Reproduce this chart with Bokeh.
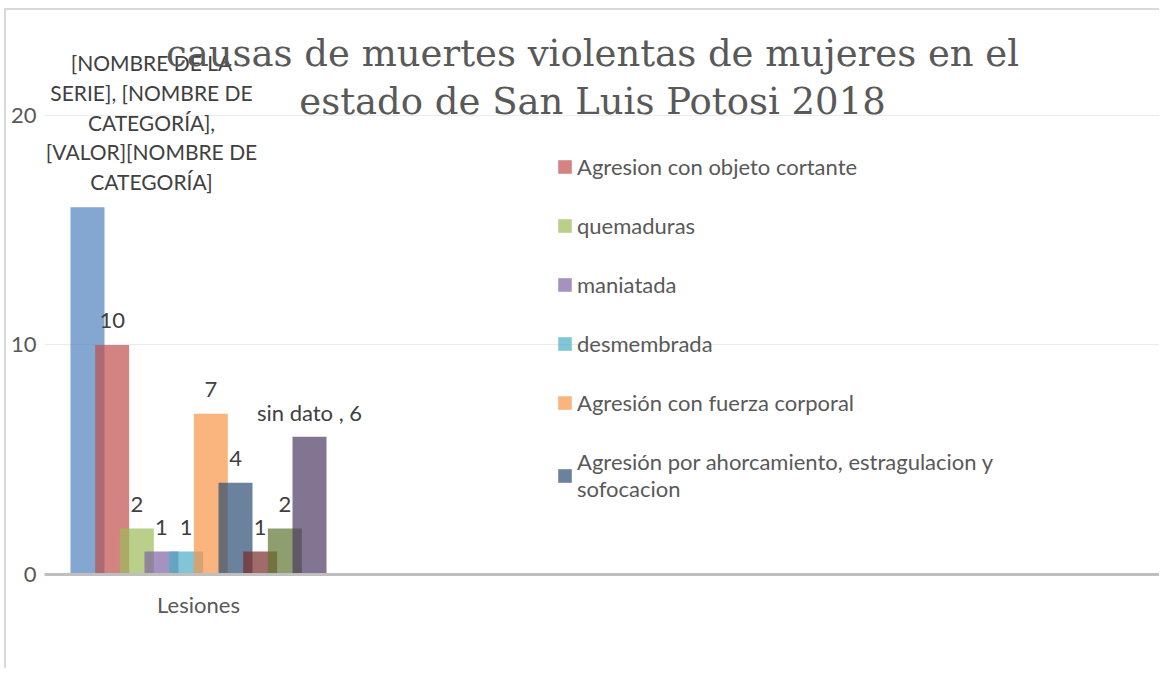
from bokeh.plotting import figure
from bokeh.models import Range1d, FixedTicker, Legend, LegendItem, Label
from bokeh.core.properties import value
from bokeh.embed import file_html
from bokeh.resources import INLINE

# ---- data ----
title_lines = ["causas de muertes violentas de mujeres en el",
               "estado de San Luis Potosi 2018"]
categories = ["Lesiones"]
series_names = ["Serie1",
                "Agresion con objeto cortante",
                "quemaduras",
                "maniatada",
                "desmembrada",
                "Agresión con fuerza corporal",
                "Agresión por ahorcamiento, estragulacion y\nsofocacion",
                "Serie8",
                "Serie9",
                "sin dato"]
values = [16, 10, 2, 1, 1, 7, 4, 1, 2, 6]
colors = ["#4F81BD", "#C0504D", "#9BBB59", "#8064A2", "#4BACC6",
          "#F79646", "#2C4D75", "#772C2A", "#5F7530", "#4D3B62"]
bar_labels = ["[NOMBRE DE LA\nSERIE], [NOMBRE DE\nCATEGORÍA],\n[VALOR][NOMBRE DE\nCATEGORÍA]",
              "10", "2", "1", "1", "7", "4", "1", "2", "sin dato , 6"]
legend_shown = [1, 2, 3, 4, 5, 6]
y_ticks = [0, 10, 20]

# ---- layout constants ----
W, H = 1159, 668
LEFT, TOP, BOTTOM = 44, 9, 574
CAT_CENTER_PX = 198
PX_PER_CAT = 280.0
STEP = 24.67 / PX_PER_CAT
BAR_W = 34.0 / PX_PER_CAT
Y_END = (BOTTOM - TOP) / 22.96
TXT = "#595959"
FONT = "Lato"

x_start = 0.5 - (CAT_CENTER_PX - LEFT) / PX_PER_CAT
x_end = 0.5 + (W - CAT_CENTER_PX) / PX_PER_CAT

p = figure(width=W, height=H, output_backend="svg", toolbar_location=None,
           x_range=Range1d(x_start, x_end), y_range=Range1d(0, Y_END),
           min_border_left=LEFT, min_border_right=0, min_border_top=TOP,
           min_border_bottom=H - BOTTOM)
p.outline_line_color = None
p.background_fill_alpha = 0
p.border_fill_alpha = 0
# light chart-area border (top and left edges) drawn behind the canvas
p.styles = {
    "background-color": "white",
    "background-image": "linear-gradient(#D9D9D9, #D9D9D9), linear-gradient(#D9D9D9, #D9D9D9)",
    "background-size": "2px 100%, 100% 2px",
    "background-position": "4px 8px, 4px 8px",
    "background-repeat": "no-repeat",
}

n = len(values)
renderers = []
for ci, cat in enumerate(categories):
    for i in range(n):
        x = ci + 0.5 + (i - (n - 1) / 2) * STEP
        r = p.vbar(x=[x], top=[values[i]], width=BAR_W, bottom=0,
                   fill_color=colors[i], fill_alpha=0.7, line_color=None)
        renderers.append(r)
        if i == 0:
            p.add_layout(Label(x=x, y=values[i], text=bar_labels[i],
                               text_font=FONT, text_font_size="21px",
                               text_color="#404040", text_align="center",
                               text_baseline="bottom", text_line_height=1.19,
                               x_offset=64, y_offset=13))
        else:
            p.text(x=[x], y=[values[i]], text=[bar_labels[i]],
                   text_font=value(FONT), text_font_size="22px",
                   text_color="#404040", text_align="center",
                   text_baseline="middle", y_offset=-24)

# axes
p.yaxis.ticker = FixedTicker(ticks=y_ticks)
p.yaxis.axis_line_color = None
p.yaxis.major_tick_line_color = None
p.yaxis.minor_tick_line_color = None
p.yaxis.major_tick_out = 0
p.yaxis.major_label_standoff = LEFT - 36
p.yaxis.major_label_text_font = FONT
p.yaxis.major_label_text_font_size = "22px"
p.yaxis.major_label_text_color = TXT

cat_ticks = [ci + 0.5 for ci in range(len(categories))]
p.xaxis.ticker = FixedTicker(ticks=cat_ticks)
p.xaxis.major_label_overrides = {t: c for t, c in zip(cat_ticks, categories)}
p.xaxis.axis_line_color = "#BFBFBF"
p.xaxis.axis_line_width = 3
p.xaxis.major_tick_line_color = None
p.xaxis.minor_tick_line_color = None
p.xaxis.major_tick_out = 0
p.xaxis.major_label_standoff = 16
p.xaxis.major_label_text_font = FONT
p.xaxis.major_label_text_font_size = "22px"
p.xaxis.major_label_text_color = TXT

p.xgrid.grid_line_color = None
p.ygrid.ticker = FixedTicker(ticks=y_ticks)
p.ygrid.grid_line_color = "#EBEBEB"
p.ygrid.grid_line_width = 1

# title
for k, line in enumerate(title_lines):
    p.add_layout(Label(x=592 - LEFT, y=521 - 48 * k, x_units="screen", y_units="screen",
                       text=line, text_font="DejaVu Serif", text_font_size="37px",
                       text_color=TXT, text_align="center",
                       text_baseline="alphabetic"))

legend = Legend(items=[LegendItem(label=series_names[i], renderers=[renderers[i]])
                       for i in legend_shown],
                location=(556 - LEFT, 72), orientation="vertical",
                glyph_width=17, glyph_height=17, label_standoff=4, spacing=32,
                padding=0, margin=0, border_line_color=None,
                background_fill_alpha=0,
                label_text_font=FONT, label_text_font_size="22px",
                label_text_color=TXT)
p.add_layout(legend)

open("out.html", "w").write(file_html(p, INLINE))
